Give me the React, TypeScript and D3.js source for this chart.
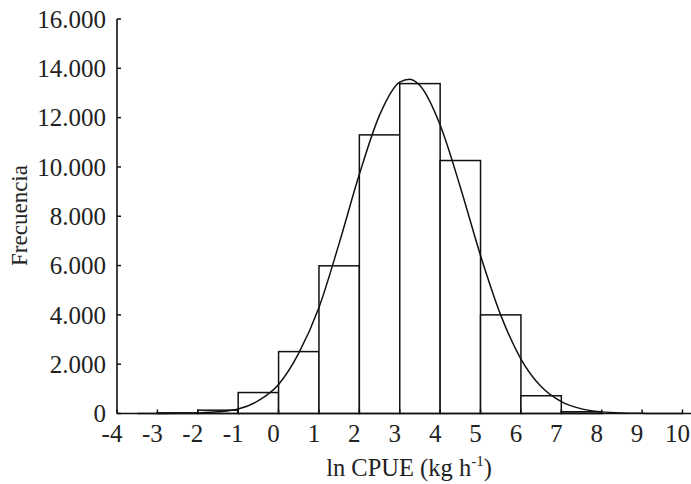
import React from "react";
import * as d3 from "d3";

// ---- data ----
const xTickValues = [-4, -3, -2, -1, 0, 1, 2, 3, 4, 5, 6, 7, 8, 9, 10];
const yTickValues = [0, 2000, 4000, 6000, 8000, 10000, 12000, 14000, 16000];
const yTickLabels = ["0", "2.000", "4.000", "6.000", "8.000", "10.000", "12.000", "14.000", "16.000"];

const binStarts = [-3, -2, -1, 0, 1, 2, 3, 4, 5, 6, 7];
const binCounts = [25, 135, 850, 2510, 5990, 11300, 13380, 10260, 4000, 720, 70];

// fitted curve
const curveX = [-3.5, -3, -2.5, -2, -1.5, -1, -0.5, 0, 0.5, 1, 1.5, 2, 2.5, 3, 3.25, 3.5, 4, 4.5, 5, 5.5, 6, 6.5, 7, 7.5, 8, 8.5, 9, 9.5, 10];
const curveY = [0, 2, 8, 24, 70, 180, 520, 1180, 2450, 4300, 6900, 9700, 12100, 13440, 13560, 13300, 11700, 9180, 6410, 3990, 2210, 1092, 480, 188, 66, 20, 6, 2, 0];

const xTitle = "ln CPUE (kg h";
const xTitleSup = "-1";
const yTitle = "Frecuencia";

export default function App() {
  const W = 691;
  const H = 484;
  const x = d3.scaleLinear().domain([-4, 10]).range([117, 682.5]);
  const y = d3.scaleLinear().domain([0, 16000]).range([413.5, 19]);
  const ink = "#111";
  const font = "'Liberation Serif', 'Times New Roman', serif";

  const line = d3
    .line<number>()
    .x((_, i) => x(curveX[i]))
    .y((d) => y(d))
    .curve(d3.curveMonotoneX);

  return (
    <svg
      width={W}
      height={H}
      style={{ position: "absolute", left: 0, top: 0, background: "#fff" }}
      fontFamily={font}
    >
      <rect x={0} y={0} width={W} height={H} fill="#fff" />
      {/* bars */}
      {binStarts.map((b, i) => (
        <rect
          key={b}
          x={x(b)}
          y={y(binCounts[i])}
          width={x(b + 1) - x(b)}
          height={y(0) - y(binCounts[i])}
          fill="#fff"
          stroke={ink}
          strokeWidth={1.5}
        />
      ))}
      {/* curve */}
      <path d={line(curveY) || ""} fill="none" stroke={ink} strokeWidth={1.5} />
      {/* axes */}
      <line x1={x(-4)} x2={x(-4)} y1={y(16000)} y2={y(0)} stroke={ink} strokeWidth={1.6} />
      <line x1={x(-4)} x2={W} y1={y(0)} y2={y(0)} stroke={ink} strokeWidth={1.6} />
      {yTickValues.map((v, i) => (
        <g key={v}>
          <line x1={x(-4)} x2={x(-4) + 4} y1={y(v)} y2={y(v)} stroke={ink} strokeWidth={1.5} />
          <text x={106} y={y(v)} dy="0.35em" textAnchor="end" fontSize={25} fill="#222">
            {yTickLabels[i]}
          </text>
        </g>
      ))}
      {xTickValues.map((v) => (
        <g key={v}>
          <line x1={x(v)} x2={x(v)} y1={y(0)} y2={y(0) - 4} stroke={ink} strokeWidth={1.5} />
          <text x={x(v) - 5} y={442} textAnchor="middle" fontSize={25} fill="#222">
            {String(v)}
          </text>
        </g>
      ))}
      <text x={409} y={476} textAnchor="middle" fontSize={24.5} fill="#222">
        {xTitle}
        <tspan dy={-10} fontSize={15}>{xTitleSup}</tspan>
        <tspan dy={10}>)</tspan>
      </text>
      <text
        transform={`translate(27,215.5) rotate(-90)`}
        textAnchor="middle"
        fontSize={23}
        fill="#222"
      >
        {yTitle}
      </text>
    </svg>
  );
}
